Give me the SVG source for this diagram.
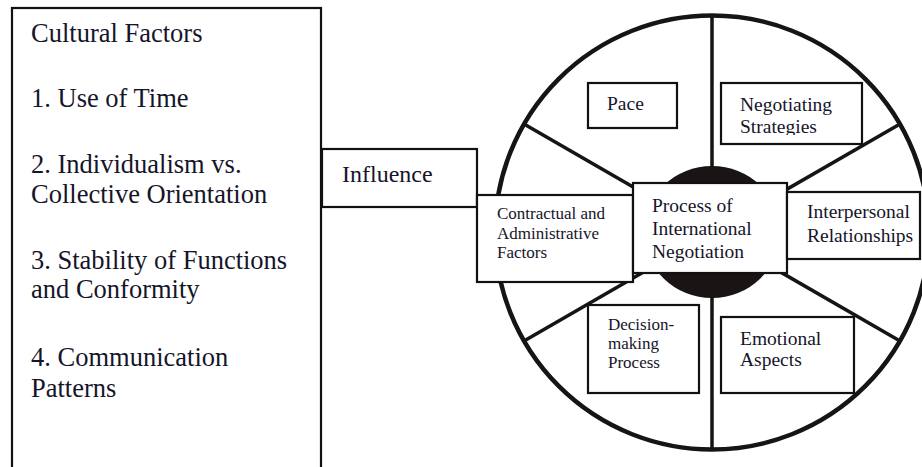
<svg xmlns="http://www.w3.org/2000/svg" width="922" height="467" viewBox="0 0 922 467">
  <style>
    .box { fill: #fff; stroke: #111; stroke-width: 2.2; }
    .txt { font-family: "Liberation Serif", "Times New Roman", serif; fill: #15152a; }
    .big { font-size: 26.5px; }
    .mid { font-size: 19.5px; }
    .sml { font-size: 17px; }
    .wheel { fill: none; stroke: #151515; stroke-width: 4.5; }
    .spoke { stroke: #151515; stroke-width: 3.5; stroke-linecap: butt; }
  </style>
  <defs>
    <clipPath id="clipStrategies">
      <rect x="721" y="83" width="141" height="52"/>
    </clipPath>
  </defs>
  <rect width="922" height="467" fill="#fff"/>

  <!-- wheel: rim, spokes and hub -->
  <g id="wheel">
    <circle class="wheel" cx="712" cy="232.5" r="217"/>
    <line class="spoke" x1="712" y1="15" x2="712" y2="450"/>
    <line class="spoke" x1="524" y1="124" x2="900" y2="341"/>
    <line class="spoke" x1="524" y1="341" x2="900" y2="124"/>
    <ellipse cx="712" cy="232" rx="68" ry="66" fill="#1a1414"/>
  </g>

  <g id="connectors"></g>

  <!-- left column -->
  <g id="cultural-factors">
    <rect class="box" x="12" y="8" width="309" height="470"/>
    <text class="txt big" x="31" y="42">Cultural Factors</text>
    <text class="txt big" x="31" y="107">1. Use of Time</text>
    <text class="txt big" x="31" y="173">2. Individualism vs.</text>
    <text class="txt big" x="31" y="203">Collective Orientation</text>
    <text class="txt big" x="31" y="269">3. Stability of Functions</text>
    <text class="txt big" x="31" y="298">and Conformity</text>
    <text class="txt big" x="31" y="366">4. Communication</text>
    <text class="txt big" x="31" y="397">Patterns</text>
  </g>

  <g id="influence">
    <rect class="box" x="322" y="149" width="155" height="58"/>
    <text class="txt" style="font-size:24px" x="342" y="182">Influence</text>
  </g>

  <g id="pace">
    <rect class="box" x="588" y="83" width="89" height="45"/>
    <text class="txt mid" x="607" y="110">Pace</text>
  </g>

  <g id="negotiating-strategies">
    <rect class="box" x="721" y="83" width="141" height="61"/>
    <g clip-path="url(#clipStrategies)">
      <text class="txt mid" x="740" y="111">Negotiating</text>
      <text class="txt mid" x="740" y="133">Strategies</text>
    </g>
  </g>

  <g id="contractual">
    <rect class="box" x="477" y="195" width="156" height="87"/>
    <text class="txt sml" x="497" y="219">Contractual and</text>
    <text class="txt sml" x="497" y="239">Administrative</text>
    <text class="txt sml" x="497" y="258">Factors</text>
  </g>

  <g id="process">
    <rect class="box" x="633" y="183" width="154" height="90"/>
    <text class="txt mid" x="652" y="212">Process of</text>
    <text class="txt mid" x="652" y="235">International</text>
    <text class="txt mid" x="652" y="258">Negotiation</text>
  </g>

  <g id="interpersonal">
    <rect class="box" x="787" y="192" width="133" height="67"/>
    <text class="txt mid" x="807" y="218">Interpersonal</text>
    <text class="txt mid" x="807" y="242">Relationships</text>
  </g>

  <g id="decision-making">
    <rect class="box" x="588" y="305" width="111" height="88"/>
    <text class="txt sml" x="608" y="330">Decision-</text>
    <text class="txt sml" x="608" y="349">making</text>
    <text class="txt sml" x="608" y="368">Process</text>
  </g>

  <g id="emotional">
    <rect class="box" x="721" y="317" width="133" height="76"/>
    <text class="txt mid" x="740" y="345">Emotional</text>
    <text class="txt mid" x="740" y="366">Aspects</text>
  </g>
</svg>
